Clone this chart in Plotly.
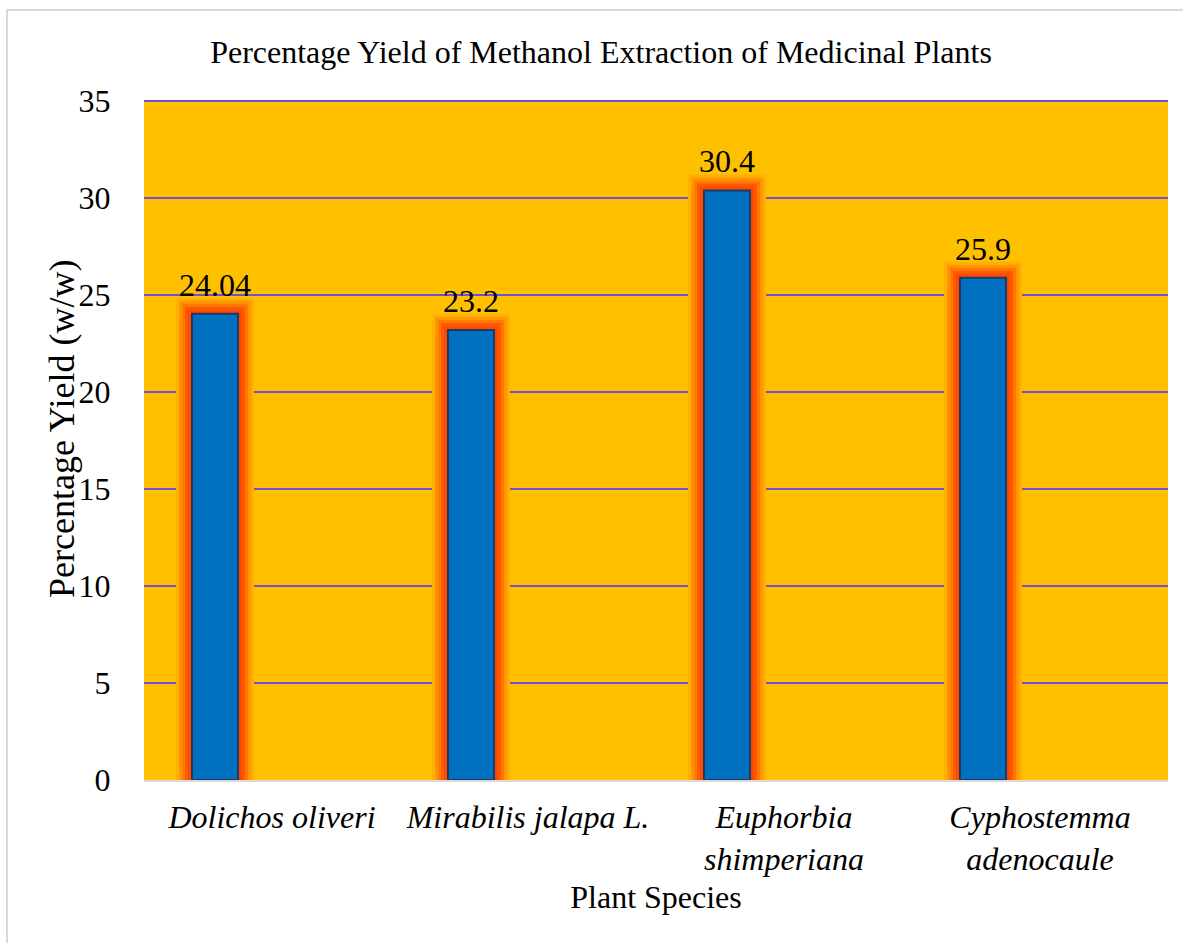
import plotly.graph_objects as go

# Plant species (categories) and their methanol-extract yields (% w/w)
species = ["Dolichos oliveri", "Mirabilis jalapa L.", "Euphorbia shimperiana", "Cyphostemma adenocaule"]
species_ticktext = [
    "<i>Dolichos oliveri</i>",
    "<i>Mirabilis jalapa L.</i>",
    "<i>Euphorbia<br>shimperiana</i>",
    "<i>Cyphostemma<br>adenocaule</i>",
]
yield_pct = [24.04, 23.2, 30.4, 25.9]
y_tickvals = [0, 5, 10, 15, 20, 25, 30, 35]

# Layout geometry
W, H = 1183, 943
M_L, M_R, M_T, M_B = 144, 15, 100, 163
PLOT_W = W - M_L - M_R
PLOT_H = H - M_T - M_B
SLOT_PX = PLOT_W / len(species)

BAR_OFFSET = -0.3125   # bar sits left of the category centre
BAR_WIDTH = 0.18

FONT = "Liberation Serif, Times New Roman, serif"
FS = 32

fig = go.Figure()

# Soft orange/red glow around each bar, built from stacked outlines
glow_layers = [
    (32, "#FFB000"),
    (26, "#FF9800"),
    (20, "#FF7A00"),
    (14, "#FF5A00"),
    (8, "#FF4A00"),
]
for lw, col in glow_layers:
    fig.add_trace(go.Bar(
        x=species, y=yield_pct,
        offset=BAR_OFFSET, width=BAR_WIDTH,
        marker=dict(color=col, line=dict(color=col, width=lw)),
        hoverinfo="skip", showlegend=False,
    ))

# Main bars
fig.add_trace(go.Bar(
    x=species, y=yield_pct,
    offset=BAR_OFFSET, width=BAR_WIDTH,
    marker=dict(color="#0070C0", line=dict(color="#1F3864", width=2)),
    hoverinfo="skip", showlegend=False,
))

# Value labels above the bars
bar_centre_shift = (BAR_OFFSET + BAR_WIDTH / 2) * SLOT_PX
for s, v in zip(species, yield_pct):
    fig.add_annotation(
        x=s, y=v, xref="x", yref="y",
        text=f"{v:g}", showarrow=False,
        xshift=bar_centre_shift, yshift=9, yanchor="bottom",
        font=dict(family=FONT, size=FS, color="black"),
    )

# Vertical axis title
fig.add_annotation(
    text="Percentage Yield (w/w)", textangle=-90, showarrow=False,
    xref="paper", yref="paper",
    x=(62 - M_L) / PLOT_W, y=(M_T + PLOT_H - 429) / PLOT_H,
    xanchor="center", yanchor="middle",
    font=dict(family=FONT, size=36, color="black"),
)

# Light grey frame around the whole chart
fig.add_shape(
    type="rect", xref="paper", yref="paper",
    x0=(7 - M_L) / PLOT_W, x1=(W + 12 - M_L) / PLOT_W,
    y0=-(H + 12 - M_T - PLOT_H) / PLOT_H, y1=(PLOT_H + M_T - 10) / PLOT_H,
    line=dict(color="#D9D9D9", width=2), fillcolor="rgba(0,0,0,0)", layer="below",
)

fig.update_layout(
    width=W, height=H,
    margin=dict(l=M_L, r=M_R, t=M_T, b=M_B, autoexpand=False),
    paper_bgcolor="white",
    plot_bgcolor="#FFC000",
    barmode="overlay",
    font=dict(family=FONT, size=FS, color="black"),
    title=dict(
        text="Percentage Yield of Methanol Extraction of Medicinal Plants",
        x=601 / W, xref="container", xanchor="center",
        y=1 - 52 / H, yref="container", yanchor="middle",
        font=dict(family=FONT, size=FS, color="black"),
    ),
    xaxis=dict(
        type="category",
        tickvals=species, ticktext=species_ticktext,
        showgrid=False, zeroline=False,
        showline=True, linecolor="#D9D9D9", linewidth=2,
        ticks="outside", ticklen=8, tickcolor="rgba(0,0,0,0)",
        tickfont=dict(family=FONT, size=FS, color="black"),
        title=dict(text="Plant Species", standoff=10,
                   font=dict(family=FONT, size=FS, color="black")),
    ),
    yaxis=dict(
        range=[0, 35.06],
        tickvals=y_tickvals,
        showgrid=True, gridcolor="#6F52D4", gridwidth=2,
        zeroline=False, showline=False,
        ticks="outside", ticklen=26, tickcolor="rgba(0,0,0,0)",
        tickfont=dict(family=FONT, size=FS, color="black"),
    ),
)

fig.write_html("out.html")
